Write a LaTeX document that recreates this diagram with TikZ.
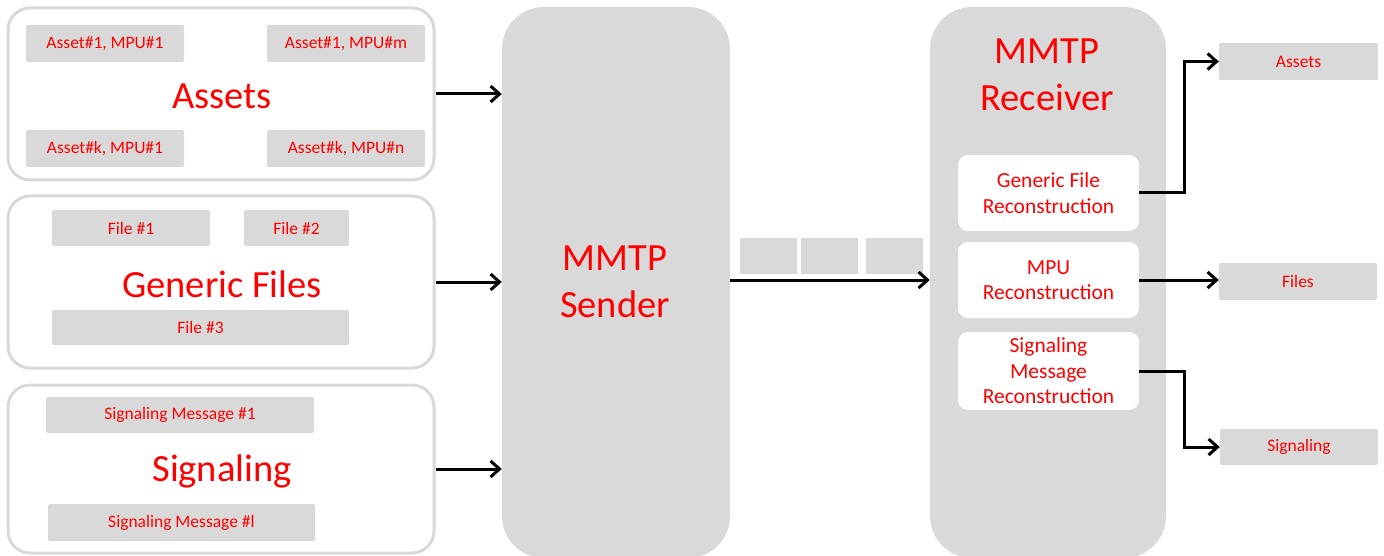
\documentclass[tikz,border=0pt]{standalone}
\usepackage{fontspec}
\setmainfont{Carlito}
\usetikzlibrary{arrows.meta}
\definecolor{boxgray}{HTML}{D9D9D9}
\definecolor{txtred}{HTML}{FF0000}

\begin{document}
\begin{tikzpicture}[x=1pt,y=-1pt,
  group/.style={draw=boxgray, line width=3pt, fill=white, rounded corners=22pt,
    minimum width=426pt, minimum height=172pt, inner sep=0pt},
  item/.style={fill=boxgray, rounded corners=2pt, inner sep=0pt, text=txtred,
    font=\fontsize{17.5}{20}\selectfont},
  biglabel/.style={text=txtred, font=\fontsize{38.5}{42}\selectfont, inner sep=0pt},
  block/.style={fill=boxgray, rounded corners=42pt, inner sep=0pt,
    minimum height=551pt},
  blocklabel/.style={text=txtred, align=center, inner sep=0pt,
    font=\fontsize{38.5}{47}\selectfont},
  inner/.style={fill=white, rounded corners=10pt, inner sep=0pt, text=txtred,
    align=center, font=\fontsize{21.5}{25.5}\selectfont, minimum width=181pt},
  packet/.style={fill=boxgray, inner sep=0pt, minimum width=57pt, minimum height=36pt},
  arr/.style={line width=3pt, -{Straight Barb[length=9pt,width=16pt]}}
]
\useasboundingbox (0,0) rectangle (1384,556);

% ---- Assets group ----
\node[group] (ga) at (221,94) {};
\node[item, minimum width=158pt, minimum height=37pt] (a11) at (105,43.5) {Asset\#1, MPU\#1};
\node[item, minimum width=158pt, minimum height=37pt] (a1m) at (346,43.5) {Asset\#1, MPU\#m};
\node[item, minimum width=158pt, minimum height=37pt] (ak1) at (105,148.5) {Asset\#k, MPU\#1};
\node[item, minimum width=158pt, minimum height=37pt] (akn) at (346,148.5) {Asset\#k, MPU\#n};
\node[biglabel] (la) at (222,96) {Assets};

% ---- Generic files group ----
\node[group] (gf) at (221,282) {};
\node[item, minimum width=158pt, minimum height=36pt] (f1) at (131,228) {File \#1};
\node[item, minimum width=105pt, minimum height=36pt] (f2) at (296.5,228) {File \#2};
\node[item, minimum width=297pt, minimum height=35pt] (f3) at (200.5,327.5) {File \#3};
\node[biglabel] (lf) at (222,284) {Generic Files};

% ---- Signaling group ----
\node[group, minimum height=168pt] (gs) at (221,469) {};
\node[item, minimum width=268pt, minimum height=36pt] (s1) at (180,415) {Signaling Message \#1};
\node[item, minimum width=267pt, minimum height=37pt] (sl) at (181.5,522.5) {Signaling Message \#l};
\node[biglabel] (ls) at (222,471) {Signaling};

% ---- MMTP sender ----
\node[block, minimum width=228pt] (snd) at (616,282.5) {};
\node[blocklabel] (sndl) at (615,282) {MMTP\\Sender};

% ---- packets in transit ----
\node[packet] (p1) at (768.5,256) {};
\node[packet] (p2) at (829.5,256) {};
\node[packet] (p3) at (894.5,256) {};

% ---- MMTP receiver ----
\node[block, minimum width=236pt] (rcv) at (1048,282.5) {};
\node[blocklabel] (rcvl) at (1047,75) {MMTP\\Receiver};
\node[inner, minimum height=76pt] (gfr) at (1048.5,193) {Generic File\\Reconstruction};
\node[inner, minimum height=76pt] (mpu) at (1048.5,280) {MPU\\Reconstruction};
\node[inner, minimum height=78pt] (smr) at (1048.5,371) {Signaling\\Message\\Reconstruction};

% ---- outputs ----
\node[item, minimum width=159pt, minimum height=37pt] (oa) at (1298.5,61.5) {Assets};
\node[item, minimum width=158pt, minimum height=37pt] (of) at (1298,281.5) {Files};
\node[item, minimum width=158pt, minimum height=36pt] (os) at (1299,447) {Signaling};

% ---- connectors ----
\draw[arr] (ga.east) -- (ga.east -| snd.west);
\draw[arr] (gf.east) -- (gf.east -| snd.west);
\draw[arr] (gs.east) -- (gs.east -| snd.west);
\draw[arr] (snd.east |- mpu) -- (rcv.west |- mpu);
\draw[arr] (gfr.east) -- ++(45,0) |- (oa.west);
\draw[arr] (mpu.east) -- (mpu.east -| of.west);
\draw[arr] (smr.east) -- ++(45,0) |- (os.west);
\end{tikzpicture}
\end{document}
